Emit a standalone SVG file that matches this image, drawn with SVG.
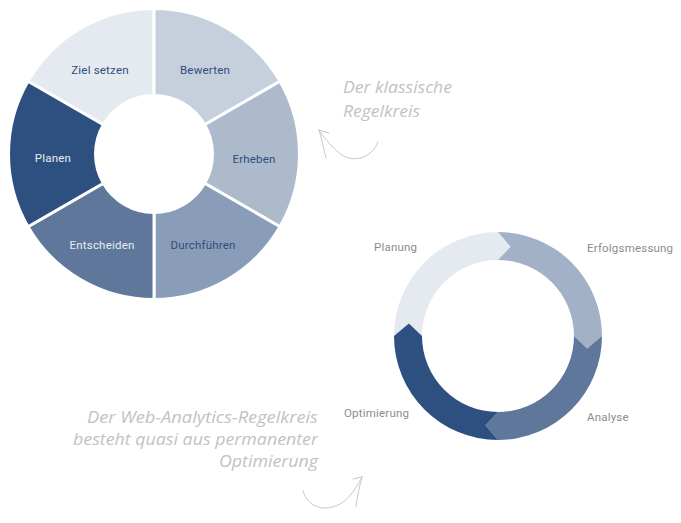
<svg xmlns="http://www.w3.org/2000/svg" width="681" height="523" viewBox="0 0 681 523">
<style>
.seg{stroke:#fff;stroke-width:3;stroke-linejoin:miter}
.lbl{font-family:Roboto,"Liberation Sans",sans-serif;font-size:11.5px;text-anchor:middle;letter-spacing:0.2px}
.dk{fill:#2e4e7e}
.lt{fill:#e8ecf2}
.gl{font-family:Roboto,"Liberation Sans",sans-serif;font-size:11.5px;fill:#8c8c8c;letter-spacing:0.2px}
.hand{font-family:"Open Sans","DejaVu Sans",sans-serif;font-style:italic;fill:#c2c2c2}
.arr{fill:none;stroke:#c8c8c8;stroke-width:1;stroke-linecap:round}
</style>
<rect width="681" height="523" fill="#fff"/>

<g id="classic-cycle">
  <g id="ziel-setzen">
    <path class="seg" fill="#e5e9f0" d="M28,81.25 A145.5,145.5 0 0 1 154,8.5 L154,95.5 A58.5,58.5 0 0 0 103.34,124.75 Z"/>
    <text class="lbl dk" x="100" y="74">Ziel setzen</text>
  </g>
  <g id="bewerten">
    <path class="seg" fill="#c6cfdc" d="M154,8.5 A145.5,145.5 0 0 1 280,81.25 L204.66,124.75 A58.5,58.5 0 0 0 154,95.5 Z"/>
    <text class="lbl dk" x="205" y="74">Bewerten</text>
  </g>
  <g id="erheben">
    <path class="seg" fill="#adbacc" d="M280,81.25 A145.5,145.5 0 0 1 280,226.75 L204.66,183.25 A58.5,58.5 0 0 0 204.66,124.75 Z"/>
    <text class="lbl dk" x="254" y="163">Erheben</text>
  </g>
  <g id="durchfuehren">
    <path class="seg" fill="#8a9db8" d="M280,226.75 A145.5,145.5 0 0 1 154,299.5 L154,212.5 A58.5,58.5 0 0 0 204.66,183.25 Z"/>
    <text class="lbl dk" x="203" y="249">Durchführen</text>
  </g>
  <g id="entscheiden">
    <path class="seg" fill="#5e779b" d="M154,299.5 A145.5,145.5 0 0 1 28,226.75 L103.34,183.25 A58.5,58.5 0 0 0 154,212.5 Z"/>
    <text class="lbl lt" x="102" y="249">Entscheiden</text>
  </g>
  <g id="planen">
    <path class="seg" fill="#2e5080" d="M28,226.75 A145.5,145.5 0 0 1 28,81.25 L103.34,124.75 A58.5,58.5 0 0 0 103.34,183.25 Z"/>
    <text class="lbl lt" x="53" y="162">Planen</text>
  </g>
</g>

<g id="web-analytics-cycle">
  <g id="planung">
    <path fill="#e5e9f0" d="M394,336 A104,104 0 0 1 498,232 L510.53,246.87 L498,260 A76,76 0 0 0 422,336 L408.87,323.47 Z"/>
    <text class="gl" x="374" y="251">Planung</text>
  </g>
  <g id="erfolgsmessung">
    <path fill="#a2b1c8" d="M498,232 A104,104 0 0 1 602,336 L587.13,348.53 L574,336 A76,76 0 0 0 498,260 L510.53,246.87 Z"/>
    <text class="gl" x="587" y="252">Erfolgsmessung</text>
  </g>
  <g id="analyse">
    <path fill="#5e779b" d="M602,336 A104,104 0 0 1 498,440 L485.47,425.13 L498,412 A76,76 0 0 0 574,336 L587.13,348.53 Z"/>
    <text class="gl" x="587" y="421">Analyse</text>
  </g>
  <g id="optimierung">
    <path fill="#2e5080" d="M498,440 A104,104 0 0 1 394,336 L408.87,323.47 L422,336 A76,76 0 0 0 498,412 L485.47,425.13 Z"/>
    <text class="gl" x="344" y="417">Optimierung</text>
  </g>
</g>

<g id="notes">
  <text class="hand" font-size="16" x="343" y="93" textLength="109" lengthAdjust="spacingAndGlyphs">Der klassische</text>
  <text class="hand" font-size="16" x="343" y="117" textLength="77" lengthAdjust="spacingAndGlyphs">Regelkreis</text>
  <text class="hand" font-size="17" x="87" y="423" textLength="231" lengthAdjust="spacingAndGlyphs">Der Web-Analytics-Regelkreis</text>
  <text class="hand" font-size="17" x="73" y="445" textLength="245" lengthAdjust="spacingAndGlyphs">besteht quasi aus permanenter</text>
  <text class="hand" font-size="17" x="219" y="467" textLength="99" lengthAdjust="spacingAndGlyphs">Optimierung</text>
</g>

<g id="connectors">
  <path class="arr" d="M378,142 C372,158 352,165 338,152 C329,144 323,136 319,130"/>
  <path class="arr" d="M319,130 L329,133 M319,130 C322,140 324,150 326,158"/>
  <path class="arr" d="M303,491 C308,508 325,512 340,504 C350,498 356,488 362,477"/>
  <path class="arr" d="M362,477 L353,479 M362,477 C359,488 357,498 356,507"/>
</g>
</svg>
